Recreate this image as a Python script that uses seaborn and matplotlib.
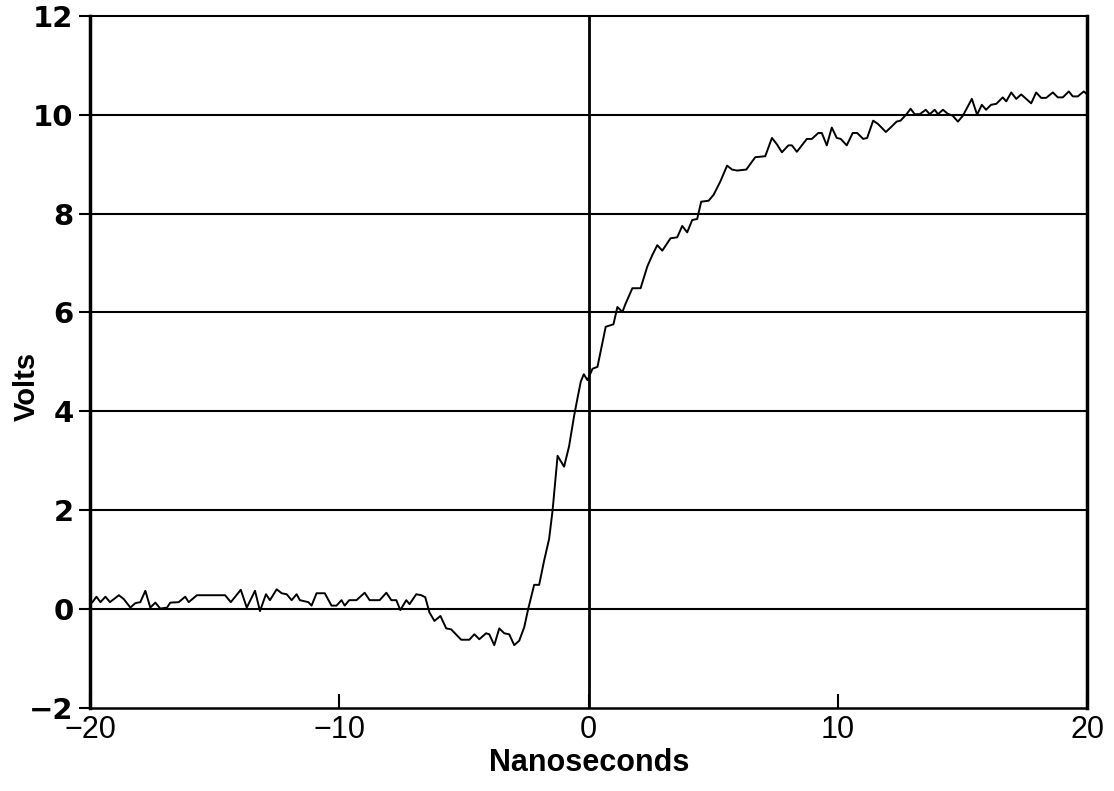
import matplotlib
matplotlib.use("Agg")
import matplotlib.pyplot as plt
import seaborn as sns
import pandas as pd

# ---- data ----
time_ns = [
    -20.0, -19.88, -19.75, -19.59, -19.39, -19.21, -18.85, -18.65, -18.39, -18.19,
    -17.99, -17.79, -17.59, -17.39, -17.19, -16.92, -16.79, -16.45, -16.19, -16.05,
    -15.72, -14.59, -14.36, -13.96, -13.72, -13.39, -13.19,
    -12.95, -12.79, -12.52, -12.32, -12.12, -11.92, -11.72, -11.59, -11.25, -11.12,
    -10.92, -10.59, -10.32, -10.12, -9.92, -9.79, -9.61, -9.32, -8.99, -8.79,
    -8.39, -8.12, -7.92, -7.72, -7.56, -7.32, -7.19, -6.92, -6.72, -6.56,
    -6.39, -6.19, -5.95, -5.72, -5.52, -5.12, -4.79, -4.59, -4.39, -4.12,
    -3.99, -3.79, -3.59, -3.39, -3.19, -2.99, -2.79, -2.59, -2.43, -2.19,
    -1.99, -1.79, -1.59, -1.45, -1.25, -0.99, -0.79, -0.59, -0.45, -0.32,
    -0.2, -0.05, 0.15, 0.35, 0.68, 0.99, 1.15, 1.35, 1.48, 1.75,
    2.08, 2.35, 2.55, 2.75, 2.95, 3.28, 3.55, 3.75, 3.95, 4.15,
    4.35, 4.51, 4.81, 5.01, 5.28, 5.55, 5.75, 5.95, 6.32, 6.68,
    7.08, 7.35, 7.55, 7.75, 8.01, 8.15, 8.35, 8.75, 8.95, 9.21,
    9.35, 9.55, 9.75, 9.95, 10.11, 10.35, 10.59, 10.77, 11.01, 11.17,
    11.41, 11.61, 11.92, 12.15, 12.35, 12.51, 12.75, 12.91, 13.08, 13.28,
    13.52, 13.68, 13.88, 14.01, 14.21, 14.4, 14.6, 14.81, 15.01, 15.37,
    15.58, 15.77, 15.94, 16.14, 16.35, 16.61, 16.75, 16.95, 17.15, 17.35,
    17.55, 17.75, 17.95, 18.15, 18.35, 18.62, 18.82, 19.02, 19.26, 19.42,
    19.62, 19.86, 20.0,
]
volts = [
    0.10, 0.16, 0.25, 0.14, 0.25, 0.14, 0.28, 0.20, 0.03, 0.12,
    0.14, 0.37, 0.03, 0.13, 0.01, 0.03, 0.13, 0.14, 0.25, 0.14,
    0.28, 0.28, 0.14, 0.39, 0.03, 0.37, -0.04,
    0.30, 0.18, 0.40, 0.32, 0.30, 0.18, 0.30, 0.18, 0.14, 0.07,
    0.32, 0.32, 0.07, 0.07, 0.18, 0.07, 0.18, 0.18, 0.33, 0.18,
    0.18, 0.33, 0.18, 0.18, -0.02, 0.18, 0.10, 0.30, 0.28, 0.24,
    -0.07, -0.24, -0.14, -0.39, -0.41, -0.62, -0.62, -0.51, -0.61, -0.49,
    -0.51, -0.73, -0.39, -0.49, -0.51, -0.73, -0.64, -0.37, 0.0, 0.49,
    0.49, 0.98, 1.42, 2.0, 3.1, 2.88, 3.29, 3.9, 4.27, 4.6,
    4.75, 4.63, 4.86, 4.9, 5.71, 5.76, 6.11, 6.01, 6.18, 6.49,
    6.49, 6.93, 7.16, 7.36, 7.25, 7.5, 7.52, 7.75, 7.62, 7.87,
    7.89, 8.24, 8.26, 8.38, 8.65, 8.97, 8.89, 8.87, 8.89, 9.14,
    9.16, 9.53, 9.40, 9.24, 9.38, 9.38, 9.25, 9.51, 9.51, 9.63,
    9.63, 9.38, 9.74, 9.53, 9.51, 9.38, 9.63, 9.63, 9.51, 9.53,
    9.88, 9.81, 9.65, 9.76, 9.86, 9.88, 10.01, 10.12, 10.01, 10.01,
    10.10, 10.01, 10.10, 10.01, 10.10, 10.02, 9.98, 9.86, 9.98, 10.32,
    10.0, 10.2, 10.1, 10.2, 10.22, 10.35, 10.27, 10.45, 10.32, 10.41,
    10.32, 10.23, 10.45, 10.34, 10.34, 10.45, 10.35, 10.35, 10.47, 10.37,
    10.37, 10.47, 10.41,
]
x_ticks = [-20, -10, 0, 10, 20]
x_tick_labels = ["\u221220", "\u221210", "0", "10", "20"]
y_ticks = [-2, 0, 2, 4, 6, 8, 10, 12]
y_tick_labels = ["\u22122", "0", "2", "4", "6", "8", "10", "12"]

df = pd.DataFrame({"Nanoseconds": time_ns, "Volts": volts})

sns.set_theme(style="white")
plt.rcParams["font.family"] = ["Liberation Sans", "DejaVu Sans"]
plt.rcParams["text.color"] = "black"
plt.rcParams["axes.labelcolor"] = "black"
plt.rcParams["xtick.color"] = "black"
plt.rcParams["ytick.color"] = "black"

fig = plt.figure(figsize=(11.14, 7.91), dpi=100)
ax = fig.add_axes([0.081, 0.105, 0.895, 0.875])

# horizontal grid lines and the x = 0 line
for yv in y_ticks[1:-1]:
    ax.axhline(yv, color="black", lw=1.5, zorder=1)
ax.axvline(0, color="black", lw=2.0, zorder=1)

sns.lineplot(data=df, x="Nanoseconds", y="Volts", color="black", lw=1.4,
             estimator=None, sort=False, ax=ax, zorder=3)

ax.set_xlim(-20, 20)
ax.set_ylim(-2, 12)
ax.set_xticks(x_ticks)
ax.set_xticklabels(x_tick_labels, fontsize=22, color="black",
                   family=["Liberation Sans", "DejaVu Sans"])
ax.set_yticks(y_ticks)
ax.set_yticklabels(y_tick_labels, fontsize=21, fontweight="bold", color="black",
                   family=["DejaVu Sans"])

ax.tick_params(axis="x", direction="in", length=10, width=1.5, color="black", pad=5,
               bottom=True)
ax.tick_params(axis="y", direction="out", length=8, width=1.5, color="black", pad=4,
               left=True)

for side, w in [("left", 2.5), ("right", 2.5), ("bottom", 1.8), ("top", 1.5)]:
    ax.spines[side].set_visible(True)
    ax.spines[side].set_color("black")
    ax.spines[side].set_linewidth(w)

ax.set_xlabel("Nanoseconds", fontsize=22, fontweight="bold", labelpad=2,
              color="black")
ax.set_ylabel("Volts", fontsize=21, fontweight="bold", color="black")
ax.yaxis.set_label_coords(-0.05, 0.465)

fig.savefig("out.png", dpi=100, facecolor="white")
